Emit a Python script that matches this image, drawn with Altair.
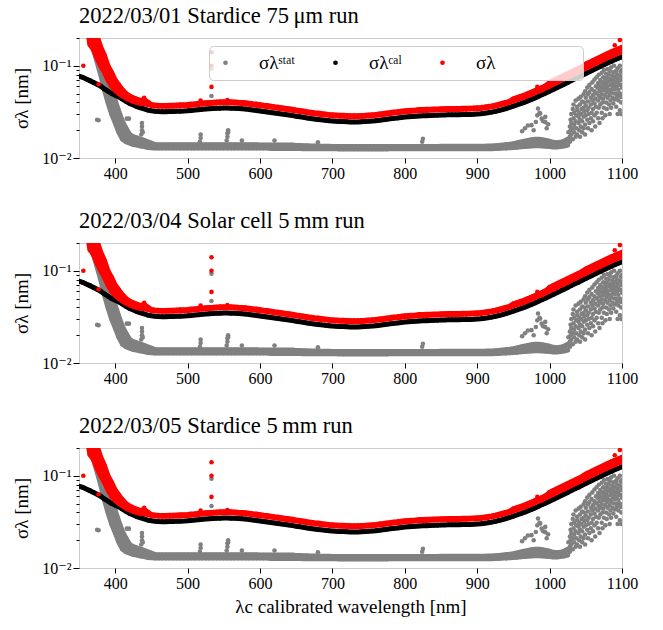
import altair as alt
import pandas as pd

# ---------------- data ----------------
WL = list(range(350, 1105, 5))  # wavelength grid of the plotted samples [nm]

CAL = [
    .077, .075, .072, .069, .066, .063, .060, .056, .053, .050,
    .048, .046, .0435, .041, .039, .0375, .036, .035, .034, .033,
    .0325, .0321, .0319, .0318, .0318, .0319, .032, .0321, .0322, .0323,
    .0325, .0328, .0331, .0334, .0337, .034, .0342, .0344, .0346, .0347,
    .0348, .0348, .0347, .0346, .0344, .0342, .0339, .0336, .0332, .0328,
    .0324, .032, .0316, .0312, .0308, .0304, .03, .0296, .0292, .0288,
    .0284, .028, .0276, .0272, .0268, .0265, .0262, .0259, .0256, .0254,
    .0252, .025, .0249, .0248, .0247, .0246, .0246, .0246, .0247, .0248,
    .025, .0252, .0254, .0257, .026, .0263, .0266, .0269, .0272, .0275,
    .0278, .028, .0282, .0284, .0286, .0287, .0288, .0289, .029, .0291,
    .0292, .0293, .0294, .0294, .0295, .0295, .0296, .0296, .0297, .0298,
    .03, .0302, .0305, .0309, .0314, .032, .0327, .0335, .0344, .0354,
    .0365, .0376, .0388, .0401, .0416, .0432, .0449, .0467, .0487, .0508,
    .053, .0554, .0579, .0605, .0632, .066, .069, .0721, .0753, .0787,
    .0823, .086, .0898, .0939, .0981, .1025, .1071, .1115, .116, .1205,
    .125,
]

TOT_LO = [
    .30, .30, .30, .17, .15, .12, .10, .085, .07, .06,
    .054, .05, .047, .0445, .0425, .041, .0398, .039, .039, .038,
    .0371, .0366, .0364, .0363, .0363, .0364, .0365, .0366, .0367, .0368,
    .0371, .0374, .0377, .0381, .0384, .0388, .039, .0392, .0394, .0396,
    .0397, .0397, .0396, .0394, .0392, .039, .0386, .0383, .0378, .0374,
    .0369, .0365, .036, .0356, .0351, .0347, .0342, .0337, .0333, .0328,
    .0324, .0319, .0315, .031, .0306, .0302, .0299, .0295, .0292, .029,
    .0287, .0285, .0284, .0283, .0282, .028, .028, .028, .0282, .0283,
    .0285, .0287, .029, .0293, .0296, .03, .0303, .0307, .031, .0314,
    .0317, .0319, .0321, .0324, .0326, .0327, .0328, .0329, .0331, .0332,
    .0333, .0334, .0335, .0335, .0336, .0336, .0337, .0337, .0339, .034,
    .0342, .0344, .0348, .0352, .0358, .0365, .0373, .0382, .0392, .0404,
    .0416, .0429, .0442, .0457, .0474, .0492, .0512, .0532, .0555, .0579,
    .0604, .0632, .066, .069, .072, .0752, .0787, .0822, .0858, .0897,
    .0938, .098, .1024, .107, .1118, .1169, .1221, .1271, .1322, .1374,
    .1425,
]

TOT_HI = [
    .30, .30, .30, .30, .28, .21, .16, .13, .10, .085,
    .07, .062, .055, .05, .047, .045, .0435, .042, .043, .0405,
    .038, .0376, .0373, .0372, .0372, .0373, .0374, .0376, .0377, .0378,
    .038, .0384, .0387, .0391, .0394, .0398, .04, .0402, .0405, .0406,
    .0407, .0407, .0406, .0405, .0402, .04, .0397, .0393, .0388, .0384,
    .0379, .0374, .037, .0365, .036, .0356, .0351, .0346, .0342, .0337,
    .0332, .0328, .0323, .0318, .0314, .031, .0307, .0303, .03, .0297,
    .0295, .0293, .0291, .029, .0289, .0288, .0288, .0288, .0289, .029,
    .0293, .0295, .0297, .0301, .0304, .0308, .0311, .0315, .0318, .0322,
    .0325, .0328, .033, .0332, .0335, .0336, .0337, .0338, .0339, .034,
    .0342, .0343, .0344, .0344, .0345, .0345, .0346, .0346, .0347, .0349,
    .0351, .0353, .0357, .0362, .0367, .0374, .0383, .0392, .0402, .0414,
    .0438, .0451, .0466, .0481, .0499, .0518, .0539, .056, .0584, .061,
    .0663, .0693, .0724, .0756, .079, .0825, .0863, .0901, .0941, .0984,
    .1045, .1092, .114, .1193, .1246, .1302, .136, .1416, .1473, .153,
    .159,
]

# statistical band, 350..1025 nm (beyond that it is a scattered cloud)
STAT_LO = [
    .40, .35, .28, .19, .15, .11, .08, .055, .04, .03,
    .024, .019, .016, .015, .0145, .014, .0138, .0135, .0133, .013,
    .0129, .0128, .0128, .0128, .0128, .0128, .0128, .0128, .0128, .0128,
    .0128, .0128, .0128, .0128, .0128, .0128, .0128, .0128, .0128, .0128,
    .0128, .0128, .0128, .0128, .0128, .0128, .0128, .0128, .0128, .0128,
    .0128, .0128, .0128, .0127, .0127, .0127, .0127, .0127, .0127, .0127,
    .0127, .0127, .0126, .0126, .0126, .0126, .0126, .0126, .0126, .0126,
    .0126, .0126, .0125, .0125, .0125, .0125, .0125, .0125, .0125, .0125,
    .0125, .0125, .0125, .0125, .0125, .0125, .0126, .0126, .0126, .0126,
    .0126, .0126, .0126, .0126, .0126, .0126, .0126, .0126, .0126, .0126,
    .0126, .0126, .0126, .0126, .0126, .0126, .0126, .0126, .0126, .0126,
    .0126, .0126, .0126, .0126, .0126, .0127, .0127, .0128, .0128, .0129,
    .013, .0131, .0132, .0133, .0134, .0135, .0136, .0136, .0135, .0134,
    .0133, .0132, .0132, .0133, .0135, .0138,
]

STAT_HI = [
    .40, .35, .30, .26, .21, .17, .13, .10, .075, .055,
    .042, .032, .025, .021, .018, .017, .0165, .016, .0155, .015,
    .0145, .014, .0139, .0139, .0139, .0139, .0139, .0139, .0139, .0139,
    .0139, .0139, .0139, .0139, .0139, .0139, .0139, .0139, .0139, .0139,
    .0139, .0139, .0139, .0139, .0139, .0139, .0139, .0139, .0139, .0139,
    .0138, .0138, .0138, .0138, .0138, .0138, .0138, .0138, .0138, .0138,
    .0137, .0137, .0136, .0136, .0135, .0135, .0135, .0134, .0134, .0134,
    .0133, .0133, .0133, .0133, .0133, .0133, .0133, .0133, .0133, .0133,
    .0133, .0133, .0133, .0133, .0133, .0133, .0133, .0133, .0133, .0133,
    .0133, .0133, .0133, .0133, .0133, .0133, .0133, .0133, .0133, .0133,
    .0134, .0134, .0134, .0134, .0134, .0134, .0134, .0134, .0134, .0134,
    .0134, .0134, .0134, .0135, .0135, .0136, .0137, .0138, .014, .0141,
    .0143, .0146, .0149, .0152, .0155, .0158, .016, .016, .0158, .0155,
    .0152, .0148, .0146, .0148, .0152, .016,
]

# isolated / scattered statistical points (outliers, streaks, red-end cloud)
STAT_EXTRA_X = [
    375, 377, 416, 419,
    436, 436, 437, 437, 437, 438,
    517, 518, 518, 533, 533,
    554, 555, 555, 556, 556, 575, 620, 680, 824, 825,
    962, 966, 970, 975, 978, 981, 983, 984, 986, 987, 989, 991, 994, 994, 996, 998,
    1026, 1026, 1028, 1028, 1028, 1029, 1029, 1030, 1030, 1030,
    1032, 1032, 1032, 1033, 1033, 1034, 1034, 1034, 1036, 1036, 1036,
    1037, 1037, 1038, 1038, 1038, 1040, 1040, 1040, 1041, 1041,
    1042, 1042, 1042, 1043, 1043, 1044, 1044, 1045, 1045, 1045,
    1047, 1047, 1047, 1047, 1048, 1048, 1049, 1049, 1049, 1050, 1050, 1050,
    1052, 1052, 1052, 1053, 1053, 1053, 1054, 1054, 1055, 1055, 1055,
    1057, 1057, 1057, 1058, 1058, 1058, 1059, 1059, 1060, 1060, 1060,
    1062, 1062, 1062, 1062, 1063, 1063, 1064, 1064, 1065, 1065, 1065,
    1067, 1067, 1067, 1067, 1068, 1068, 1068, 1069, 1069, 1069, 1070, 1070, 1070,
    1072, 1072, 1072, 1072, 1073, 1073, 1073, 1074, 1074, 1074, 1075, 1075, 1075,
    1077, 1077, 1077, 1077, 1078, 1078, 1078, 1079, 1079, 1079, 1080, 1080, 1080,
    1082, 1082, 1082, 1082, 1083, 1083, 1083, 1084, 1084, 1084, 1085, 1085, 1085,
    1087, 1087, 1087, 1087, 1088, 1088, 1088, 1089, 1089, 1089, 1090, 1090, 1090,
    1092, 1092, 1092, 1092, 1093, 1093, 1093, 1094, 1094, 1094, 1095, 1095, 1095,
    1097, 1097, 1097, 1097, 1098, 1098, 1098, 1099, 1099, 1099, 1100, 1100, 1100, 1100,
]
STAT_EXTRA_Y = [
    .026, .0257, .0267, .0267,
    .016, .018, .02, .022, .024, .019,
    .015, .0165, .018, .047, .093,
    .0155, .017, .0185, .02, .019, .0155, .0155, .0148, .015, .0162,
    .0195, .021, .0225, .0227, .02, .0246, .029, .0344, .031, .0303, .0267, .025, .0279, .0245, .021, .0232,
    .016, .019, .017, .022, .015, .02, .026, .018, .03, .024,
    .021, .034, .016, .027, .038, .019, .023, .031, .025, .042, .017,
    .029, .021, .033, .036, .018, .024, .044, .028, .02, .031,
    .038, .026, .017, .022, .046, .03, .034, .041, .025, .019,
    .028, .049, .035, .021, .032, .04, .023, .053, .018, .037, .029, .045,
    .026, .058, .033, .041, .021, .049, .035, .03, .052, .024, .062,
    .038, .045, .027, .031, .056, .02, .042, .066, .048, .034, .025,
    .053, .039, .071, .029, .044, .022, .06, .036, .031, .05, .075,
    .042, .057, .027, .065, .047, .035, .08, .053, .024, .062, .038, .07, .045,
    .058, .031, .084, .049, .04, .066, .027, .054, .075, .044, .035, .062, .09,
    .048, .07, .029, .057, .082, .04, .064, .052, .034, .074, .06, .045, .092,
    .068, .038, .055, .08, .03, .048, .088, .062, .072, .042, .052, .096, .035,
    .066, .078, .045, .057, .085, .039, .07, .05, .062, .1, .075, .043, .056,
    .067, .088, .036, .05, .06, .08, .046, .072, .094, .03, .055, .065, .042,
    .078, .1, .05, .033, .062, .046, .086, .07, .04, .03, .058, .046, .09, .075,
]

TOT_EXTRA_X = [356, 377, 440, 518, 533, 533, 533, 555, 983, 985, 987, 990, 1090, 1097]
TOT_EXTRA_Y = [.1, .063, .045, .042, .059, .1, .14, .0425, .059, .057, .055, .054, .167, .19]

TITLES = [
    "2022/03/01 Stardice 75\u2009\u03bcm run",
    "2022/03/04 Solar cell 5\u2009mm run",
    "2022/03/05 Stardice 5\u2009mm run",
]
SERIES = ["stat", "cal", "total"]
LEGEND_LABELS = ["\u03c3\u03bb\u02e2\u1d57\u1d43\u1d57", "\u03c3\u03bb\u1d9c\u1d43\u02e1", "\u03c3\u03bb"]
COLORS = ["#808080", "#000000", "#ff0000"]
X_TICKS = [400, 500, 600, 700, 800, 900, 1000, 1100]
Y_TICKS = [0.01, 0.02, 0.03, 0.04, 0.05, 0.06, 0.07, 0.08, 0.09, 0.1, 0.2]
Y_TITLE = "\u03c3\u03bb [nm]"
X_TITLE = "\u03bbc calibrated wavelength [nm]"

# ---------------- tables ----------------
wide = pd.DataFrame({"x": WL, "cal": CAL, "tot_lo": TOT_LO, "tot_hi": TOT_HI})
stat_wide = pd.DataFrame({"x": WL[:len(STAT_LO)], "stat_lo": STAT_LO, "stat_hi": STAT_HI})

rows = []
for x, v in zip(WL, STAT_LO):
    rows.append((x, v, "stat"))
for x, v in zip(WL, STAT_HI):
    rows.append((x, v, "stat"))
for x, v in zip(STAT_EXTRA_X, STAT_EXTRA_Y):
    rows.append((x, v, "stat"))
for x, v in zip(WL, CAL):
    rows.append((x, v, "cal"))
for x, v in zip(WL, TOT_LO):
    rows.append((x, v, "total"))
for x, v in zip(WL, TOT_HI):
    rows.append((x, v, "total"))
for x, v in zip(TOT_EXTRA_X, TOT_EXTRA_Y):
    rows.append((x, v, "total"))
pts = pd.DataFrame(rows, columns=["x", "y", "series"])

FONT = "Liberation Serif, Times New Roman, DejaVu Serif, serif"
label_expr = " : ".join(
    f"datum.value == '{s}' ? '{l}'" for s, l in zip(SERIES[:-1], LEGEND_LABELS[:-1])
) + f" : '{LEGEND_LABELS[-1]}'"

PT_SIZE = 21
BAND_W = 5.0


def panel(title, show_legend, show_xtitle):
    xscale = alt.Scale(domain=[350, 1100], nice=False, zero=False)
    yscale = alt.Scale(type="log", domain=[0.01, 0.2], nice=False)
    xaxis = alt.Axis(values=X_TICKS, title=X_TITLE if show_xtitle else None,
                     labelFlush=False, format="d")
    yaxis = alt.Axis(values=Y_TICKS, title=Y_TITLE,
                     labelExpr="datum.value == 0.01 ? '10\u207b\u00b2' : datum.value == 0.1 ? '10\u207b\u00b9' : ''",
                     tickSize={"condition": {"test": "datum.value == 0.01 || datum.value == 0.1", "value": 6}, "value": 3})
    if show_legend:
        legend = alt.Legend(orient="none", legendX=130, legendY=8, direction="horizontal",
                            columns=3, title="\u00a0", titleOrient="right", titlePadding=81,
                            symbolType="circle", symbolSize=22,
                            symbolStrokeWidth=0, labelFont=FONT, labelFontSize=19,
                            labelOffset=24, columnPadding=31, gridAlign="each",
                            fillColor="rgba(255,255,255,0.8)", strokeColor="#cccccc",
                            cornerRadius=4, padding=7, labelExpr=label_expr, labelLimit=400)
    else:
        legend = None
    color = alt.Color("series:N", scale=alt.Scale(domain=SERIES, range=COLORS), legend=legend)
    X = alt.X("x:Q", scale=xscale, axis=xaxis)

    def Y(f):
        return alt.Y(f, scale=yscale, axis=yaxis)

    stat_area = alt.Chart(stat_wide).mark_area(color=COLORS[0], clip=True).encode(
        x=X, y=Y("stat_lo:Q"), y2="stat_hi:Q")
    stat_l1 = alt.Chart(stat_wide).mark_line(color=COLORS[0], strokeWidth=BAND_W, clip=True,
                                             strokeCap="round").encode(x=X, y=Y("stat_lo:Q"))
    stat_l2 = alt.Chart(stat_wide).mark_line(color=COLORS[0], strokeWidth=BAND_W, clip=True,
                                             strokeCap="round").encode(x=X, y=Y("stat_hi:Q"))
    cal_line = alt.Chart(wide).mark_line(color=COLORS[1], strokeWidth=BAND_W, clip=True,
                                         strokeCap="round").encode(x=X, y=Y("cal:Q"))
    tot_area = alt.Chart(wide).mark_area(color=COLORS[2], clip=True).encode(
        x=X, y=Y("tot_lo:Q"), y2="tot_hi:Q")
    tot_l1 = alt.Chart(wide).mark_line(color=COLORS[2], strokeWidth=BAND_W, clip=True,
                                       strokeCap="round").encode(x=X, y=Y("tot_lo:Q"))
    tot_l2 = alt.Chart(wide).mark_line(color=COLORS[2], strokeWidth=BAND_W, clip=True,
                                       strokeCap="round").encode(x=X, y=Y("tot_hi:Q"))

    def dots(s):
        return alt.Chart(pts).transform_filter(f"datum.series == '{s}'").mark_circle(
            size=PT_SIZE, opacity=1, clip=True).encode(
            x=X, y=Y("y:Q"), color=color)

    return alt.layer(stat_area, stat_l1, stat_l2, dots("stat"), cal_line, dots("cal"),
                     tot_area, tot_l1, tot_l2, dots("total")).properties(
        width=543, height=120,
        title=alt.TitleParams(title, anchor="start", frame="group", offset=10))


chart = alt.vconcat(
    panel(TITLES[0], True, False),
    panel(TITLES[1], False, False),
    panel(TITLES[2], False, True),
    spacing=27,
).resolve_scale(color="independent").resolve_legend(color="independent").properties(
    padding={"left": 12, "top": 4, "right": 10, "bottom": 5}
).configure_view(stroke="#cccccc", strokeWidth=1).configure_axis(
    labelFont=FONT, labelFontSize=16, labelColor="black", titleFont=FONT,
    titleFontSize=19, titleFontWeight="normal", titleColor="black",
    tickColor="black", tickWidth=1, domain=False, grid=False, labelPadding=2,
).configure_axisX(tickSize=5, titlePadding=6).configure_axisY(titlePadding=10).configure_title(
    font=FONT, fontSize=22.5, fontWeight="normal", color="black")

chart.save("out.html", embed_options={"renderer": "svg", "actions": False})
